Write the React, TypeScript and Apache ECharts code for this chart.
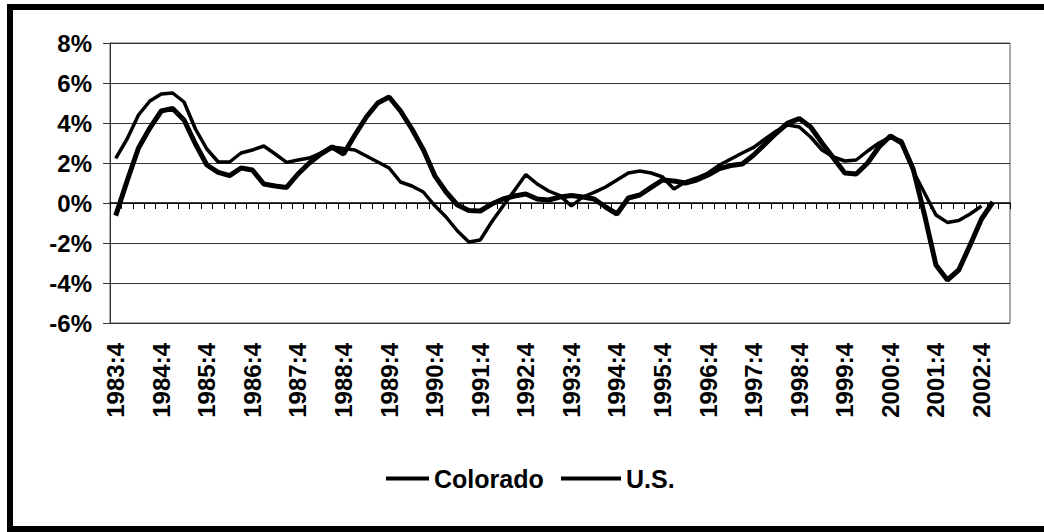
import React, { useEffect, useRef } from "react";
import * as echarts from "echarts";

const quarters: string[] = [
  "1983:4",
  "1984:1", "1984:2", "1984:3", "1984:4",
  "1985:1", "1985:2", "1985:3", "1985:4",
  "1986:1", "1986:2", "1986:3", "1986:4",
  "1987:1", "1987:2", "1987:3", "1987:4",
  "1988:1", "1988:2", "1988:3", "1988:4",
  "1989:1", "1989:2", "1989:3", "1989:4",
  "1990:1", "1990:2", "1990:3", "1990:4",
  "1991:1", "1991:2", "1991:3", "1991:4",
  "1992:1", "1992:2", "1992:3", "1992:4",
  "1993:1", "1993:2", "1993:3", "1993:4",
  "1994:1", "1994:2", "1994:3", "1994:4",
  "1995:1", "1995:2", "1995:3", "1995:4",
  "1996:1", "1996:2", "1996:3", "1996:4",
  "1997:1", "1997:2", "1997:3", "1997:4",
  "1998:1", "1998:2", "1998:3", "1998:4",
  "1999:1", "1999:2", "1999:3", "1999:4",
  "2000:1", "2000:2", "2000:3", "2000:4",
  "2001:1", "2001:2", "2001:3", "2001:4",
  "2002:1", "2002:2", "2002:3", "2002:4",
  "2003:1", "2003:2",
];

const colorado: (number | null)[] = [
  -0.63, 1.1, 2.75, 3.75, 4.6, 4.73, 4.15, 2.95, 1.9, 1.53,
  1.37, 1.75, 1.65, 0.95, 0.85, 0.78, 1.45, 2.0, 2.45, 2.8,
  2.45, 3.4, 4.3, 5.0, 5.3, 4.6, 3.7, 2.67, 1.37, 0.55,
  -0.1, -0.37, -0.4, -0.05, 0.2, 0.35, 0.45, 0.2, 0.15, 0.3,
  0.37, 0.3, 0.2, -0.2, -0.55, 0.25, 0.4, 0.78, 1.15, 1.1,
  1.0, 1.15, 1.4, 1.72, 1.87, 1.95, 2.4, 2.95, 3.5, 4.0,
  4.22, 3.8, 3.0, 2.25, 1.5, 1.45, 2.0, 2.8, 3.35, 3.0,
  1.7, -0.6, -3.1, -3.85, -3.35, -2.1, -0.8, 0.05, null,
];

const us: (number | null)[] = [
  2.23, 3.2, 4.4, 5.1, 5.45, 5.5, 5.05, 3.7, 2.7, 2.05,
  2.05, 2.5, 2.65, 2.85, 2.45, 2.03, 2.15, 2.25, 2.5, 2.8,
  2.72, 2.65, 2.35, 2.05, 1.75, 1.05, 0.85, 0.55, -0.13, -0.7,
  -1.4, -1.95, -1.85, -0.95, -0.15, 0.62, 1.42, 0.95, 0.6, 0.37,
  -0.15, 0.3, 0.53, 0.8, 1.15, 1.5, 1.6, 1.5, 1.3, 0.7,
  1.05, 1.25, 1.5, 1.9, 2.2, 2.5, 2.78, 3.2, 3.6, 3.9,
  3.8, 3.3, 2.65, 2.3, 2.1, 2.15, 2.6, 3.0, 3.3, 3.1,
  1.6, 0.5, -0.6, -0.97, -0.88, -0.55, -0.15, null, null,
];

const seriesNames = ["Colorado", "U.S."];
const FONT = "'Liberation Sans', Arial, sans-serif";

export default function App() {
  const ref = useRef<HTMLDivElement>(null);

  useEffect(() => {
    if (!ref.current) return;
    const chart = echarts.init(ref.current, undefined, { renderer: "svg" });
    const labelText = {
      fontFamily: FONT,
      fontWeight: "bold" as const,
      fontSize: 24,
      color: "#000",
    };
    chart.setOption({
      animation: false,
      backgroundColor: "#fff",
      graphic: [
        {
          type: "rect",
          shape: { x: 10, y: 7, width: 1060, height: 522 },
          style: { fill: "none", stroke: "#000", lineWidth: 6 },
          z: 100,
        },
      ],
      grid: {
        left: 110,
        right: 34,
        top: 43,
        bottom: 209,
        show: true,
        borderColor: "#555",
        borderWidth: 1,
      },
      legend: [
        {
          data: [seriesNames[0]],
          left: 381,
          top: 461,
          icon: "rect",
          itemWidth: 43,
          itemHeight: 4,
          textStyle: { ...labelText, fontSize: 25 },
        },
        {
          data: [seriesNames[1]],
          left: 556,
          top: 461,
          icon: "rect",
          itemWidth: 60,
          itemHeight: 4,
          textStyle: { ...labelText, fontSize: 25 },
        },
      ],
      xAxis: [
        {
          type: "category",
          data: quarters,
          position: "bottom",
          boundaryGap: true,
          axisLine: { show: false, onZero: false },
          axisTick: { show: false },
          splitLine: { show: false },
          axisLabel: {
            ...labelText,
            interval: 3,
            rotate: 90,
            margin: 20,
          },
        },
        {
          type: "category",
          data: quarters,
          position: "bottom",
          boundaryGap: true,
          axisLine: { show: true, onZero: true, lineStyle: { color: "#000", width: 1.5 } },
          axisTick: { show: true, interval: 0, length: 6, lineStyle: { color: "#000", width: 1 } },
          axisLabel: { show: false },
          splitLine: { show: false },
        },
      ],
      yAxis: {
        type: "value",
        min: -6,
        max: 8,
        interval: 2,
        axisLine: { show: true, lineStyle: { color: "#333", width: 1 } },
        axisTick: { show: true, length: 7, lineStyle: { color: "#333" } },
        axisLabel: { ...labelText, formatter: "{value}%", margin: 18 },
        splitLine: { show: true, lineStyle: { color: "#333", width: 1 } },
      },
      series: [
        {
          name: seriesNames[1],
          type: "line",
          xAxisIndex: 0,
          data: us,
          symbol: "none",
          lineStyle: { color: "#000", width: 3.5 },
          itemStyle: { color: "#000" },
        },
        {
          name: seriesNames[0],
          type: "line",
          xAxisIndex: 0,
          data: colorado,
          symbol: "none",
          lineStyle: { color: "#000", width: 5 },
          itemStyle: { color: "#000" },
        },
      ],
    });
    return () => chart.dispose();
  }, []);

  return (
    <div
      ref={ref}
      style={{ position: "absolute", left: 0, top: 0, width: 1044, height: 532, background: "#fff" }}
    />
  );
}
